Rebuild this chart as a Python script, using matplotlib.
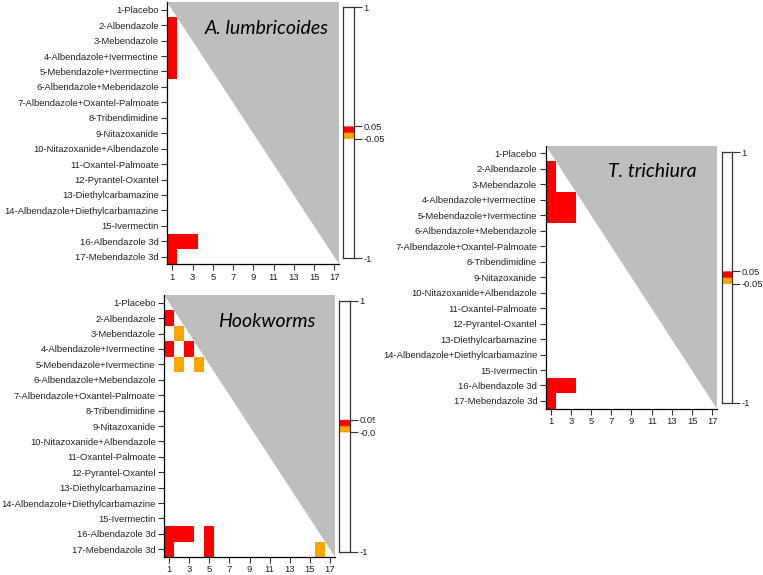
import numpy as np
import matplotlib
matplotlib.use("Agg")
import matplotlib.pyplot as plt
from matplotlib.colors import ListedColormap, BoundaryNorm
from matplotlib.patches import Polygon
from matplotlib.transforms import Bbox

plt.rcParams['font.family'] = ['Liberation Sans', 'DejaVu Sans']

treatments = ["1-Placebo", "2-Albendazole", "3-Mebendazole", "4-Albendazole+Ivermectine",
              "5-Mebendazole+Ivermectine", "6-Albendazole+Mebendazole",
              "7-Albendazole+Oxantel-Palmoate", "8-Tribendimidine", "9-Nitazoxanide",
              "10-Nitazoxanide+Albendazole", "11-Oxantel-Palmoate", "12-Pyrantel-Oxantel",
              "13-Diethylcarbamazine", "14-Albendazole+Diethylcarbamazine", "15-Ivermectin",
              "16-Albendazole 3d", "17-Mebendazole 3d"]

# significant cells (row, col), 1-based; red = 0..0.05, orange = -0.05..0
asc_red = [(2, 1), (3, 1), (4, 1), (5, 1), (16, 1), (16, 2), (16, 3), (17, 1)]
asc_orange = []
hook_red = [(2, 1), (4, 1), (4, 3), (16, 1), (16, 2), (16, 3), (16, 5), (17, 1), (17, 5)]
hook_orange = [(3, 2), (5, 2), (5, 4), (17, 16)]
tri_red = [(2, 1), (3, 1), (4, 1), (4, 2), (4, 3), (5, 1), (5, 2), (5, 3),
           (16, 1), (16, 2), (16, 3), (17, 1)]
tri_orange = []

red_val = 0.02
orange_val = -0.02
ns_val = 0.5

cmap = ListedColormap(["white", "#FFA500", "#FF0000", "white"])
norm = BoundaryNorm([-1, -0.05, 0, 0.05, 1], cmap.N)

W, H = 763, 575


def make_matrix(red, orange):
    n = len(treatments)
    m = np.full((n, n), np.nan)
    for i in range(n):
        for j in range(i):
            m[i, j] = ns_val
    for r, c in red:
        m[r - 1, c - 1] = red_val
    for r, c in orange:
        m[r - 1, c - 1] = orange_val
    return m


def px_axes(left, right, top, bottom):
    return plt.gcf().add_axes([left / W, 1 - bottom / H, (right - left) / W, (bottom - top) / H])


def panel(box, cbox, red, orange, title, tpos, clip=None):
    n = len(treatments)
    ax = px_axes(*box)
    m = make_matrix(red, orange)
    x = np.arange(1, n + 1)
    ax.pcolormesh(np.arange(0.5, n + 1), np.arange(0.5, n + 1), m, cmap=cmap, norm=norm)
    ax.add_patch(Polygon([(0.5, 0.5), (n + 0.5, 0.5), (n + 0.5, n + 0.5)],
                         closed=True, facecolor="#BEBEBE", edgecolor="none"))
    ax.set_xlim(0.5, n + 0.5)
    ax.set_ylim(n + 0.5, 0.5)
    ax.set_yticks(x)
    ax.set_yticklabels(treatments, fontsize=6.8, color="#222222")
    ax.set_xticks(x[::2])
    ax.set_xticklabels([str(v) for v in x[::2]], fontsize=6.8, color="#222222")
    ax.tick_params(length=4, width=0.8, pad=2, color="#333333")
    for s in ["top", "right"]:
        ax.spines[s].set_visible(False)
    for s in ["left", "bottom"]:
        ax.spines[s].set_linewidth(0.9)
    ax.text(tpos[0], tpos[1], title, transform=ax.transAxes, fontsize=14,
            family=["Lato", "DejaVu Sans"], style="italic", ha="center", va="center")

    cax = px_axes(*cbox)
    grad = np.linspace(-1, 1, 801)[:, None]
    cax.imshow(grad, aspect="auto", origin="lower", extent=[0, 1, -1, 1], cmap=cmap, norm=norm)
    cax.set_xticks([])
    cax.yaxis.tick_right()
    cax.set_yticks([-1, -0.05, 0.05, 1])
    cax.set_yticklabels(["-1", "-0.05", "0.05", "1"], fontsize=6.8, color="#222222")
    cax.tick_params(length=6, width=0.8, pad=1, color="#333333")
    for s in cax.spines.values():
        s.set_linewidth(0.9)
        s.set_color("#333333")
    if clip is not None:
        for lbl in cax.get_yticklabels():
            lbl.set_clip_on(True)
            lbl.set_clip_box(Bbox([[0, 0], [clip, H]]))


fig = plt.figure(figsize=(W / 100, H / 100), dpi=100)

panel((167.3, 339.4, 2.0, 264.4), (343.3, 354, 7.3, 258), asc_red, asc_orange,
      "A. lumbricoides", (0.58, 0.9))
panel((164, 335, 295, 557), (339, 350, 300.7, 551.7), hook_red, hook_orange,
      "Hookworms", (0.6, 0.9), clip=375)
panel((545.5, 717.4, 145.6, 408.7), (721.7, 731.7, 152, 403), tri_red, tri_orange,
      "T. trichiura", (0.62, 0.9))

fig.savefig("out.png", dpi=100)
